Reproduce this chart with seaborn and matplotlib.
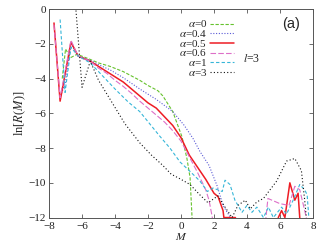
import numpy as np
import pandas as pd
import matplotlib
matplotlib.use("Agg")
import matplotlib.pyplot as plt
import seaborn as sns

# curvas ln[R(M)] (valores < -12 ficam cortados pelo eixo)
x_a0 = [-7.2, -7.0, -6.7, -6.3, -5.5, -5.0, -4.3, -3.5, -2.5, -2.0, -1.4, -1.1, -0.5, 0.06, 0.36, 0.55, 0.67, 0.7]
y_a0 = [-4.0, -2.3, -2.8, -2.6, -2.9, -3.1, -3.3, -3.6, -4.1, -4.4, -4.7, -5.0, -5.9, -7.35, -8.6, -9.7, -12, -20]

x_a04 = [-7.3, -7.0, -6.67, -6.24, -5.5, -5.0, -4.3, -3.5, -2.5, -1.5, -0.5, 0.2, 0.73, 1.15, 1.7, 2.2, 2.55, 2.8, 3.0, 3.3, 3.4]
y_a04 = [-5.0, -4.2, -2.0, -2.7, -2.95, -3.2, -3.5, -3.95, -4.6, -5.2, -5.9, -6.7, -7.45, -8.2, -9.0, -10.2, -11.3, -11.7, -12, -12, -20]

x_a05 = [-7.7, -7.33, -6.67, -6.24, -5.5, -5.0, -4.5, -4.0, -3.5, -3.0, -2.5, -2.0, -1.5, -1.0, -0.5, 0.0, 0.5, 1.0, 1.5, 2.0, 2.25,
         2.55, 2.6, 3.3, 3.4, 5.8, 5.9, 6.1, 6.3, 6.6, 6.9, 7.1, 7.2, 7.3]
y_a05 = [-0.8, -5.3, -1.9, -2.7, -3.0, -3.3, -3.6, -3.9, -4.2, -4.6, -5.0, -5.4, -5.7, -6.2, -6.7, -7.4, -8.4, -9.1, -9.8, -10.6, -10.8,
         -11.6, -12, -12, -20, -20, -12, -11.6, -12, -10.0, -11.0, -10.6, -12, -20]

x_a06 = [-7.7, -7.33, -6.67, -6.24, -5.5, -5.0, -4.5, -4.0, -3.5, -3.0, -2.5, -2.0, -1.5, -1.0, -0.5, 0.0, 0.5, 1.0, 1.5, 1.7, 1.9, 2.0,
         5.05, 5.15, 5.27, 6.0, 6.55, 6.9, 7.2, 7.6, 7.7]
y_a06 = [-0.9, -5.1, -1.8, -2.7, -3.0, -3.4, -3.7, -4.1, -4.45, -4.85, -5.3, -5.7, -6.1, -6.5, -7.0, -7.6, -8.5, -9.4, -10.4, -11.0, -12, -20,
         -20, -12, -10.9, -11.2, -11.3, -10.2, -10.4, -12, -20]

x_a1 = [-7.33, -7.03, -6.67, -6.24, -5.5, -5.0, -4.5, -4.0, -3.2, -2.5, -1.9, -1.3, -0.67, -0.06, 0.5, 1.15, 1.6, 1.94, 2.5, 2.67, 2.97,
        3.27, 3.7, 4.0, 4.3, 4.6, 5.0, 5.3, 5.6, 6.1, 6.4, 6.8, 7.2, 7.5, 7.65, 7.75]
y_a1 = [-0.6, -4.8, -2.2, -2.7, -3.1, -3.6, -4.1, -4.6, -5.35, -5.9, -6.6, -7.3, -8.0, -8.8, -9.3, -9.9, -10.5, -10.3, -10.5, -9.85, -10.1,
        -11.0, -11.7, -11.3, -11.7, -11.4, -12, -11.4, -12, -11.4, -11.8, -11.0, -10.1, -10.4, -10.7, -12]

x_a3 = [-6.4, -6.0, -5.5, -5.0, -4.2, -3.4, -2.5, -1.8, -1.1, -0.6, 0.0, 0.55, 1.15, 1.64, 2.24, 2.67, 3.1, 3.45, 3.9, 4.2, 4.6, 5.0,
        5.4, 5.8, 6.4, 6.9, 7.3, 7.5, 7.6]
y_a3 = [0.3, -4.5, -3.0, -4.1, -5.35, -6.6, -7.7, -8.4, -9.0, -9.5, -9.8, -10.1, -10.7, -11.15, -10.75, -11.4, -12, -11.3, -11.0, -11.5,
        -11.1, -10.9, -10.4, -9.9, -8.75, -8.6, -9.3, -11.0, -12]

rotulos = [r'$\alpha$=0', r'$\alpha$=0.4', r'$\alpha$=0.5', r'$\alpha$=0.6', r'$\alpha$=1', r'$\alpha$=3']
series = [(x_a0, y_a0), (x_a04, y_a04), (x_a05, y_a05), (x_a06, y_a06), (x_a1, y_a1), (x_a3, y_a3)]

partes = []
for rot, (xs, ys) in zip(rotulos, series):
    partes.append(pd.DataFrame({'M': xs, 'lnR': ys, 'alpha': rot}))
tabela = pd.concat(partes, ignore_index=True)

cores = dict(zip(rotulos, ['#66c22e', '#5a5ad6', '#ee1c24', '#dd6fc8', '#36b6d8', '#111111']))
tracos = dict(zip(rotulos, [(3, 1.5), (1, 1.5), '', (5, 2), (3, 2), (1, 2)]))

sns.set_style("ticks")
plt.rcParams['font.family'] = ['Liberation Serif', 'DejaVu Serif']
plt.rcParams['mathtext.fontset'] = 'stix'

fig = plt.figure(figsize=(3.27, 2.45), dpi=100)
ax = fig.add_axes([0.15, 0.112, 0.807, 0.851])

sns.lineplot(data=tabela, x='M', y='lnR', hue='alpha', style='alpha', palette=cores, dashes=tracos,
             estimator=None, sort=False, linewidth=0.8, ax=ax)
for ln in ax.lines:
    if ln.get_color() == '#ee1c24':
        ln.set_linewidth(1.1)

ax.set_xlim(-8, 8)
ax.set_ylim(-12, 0)
ax.set_xticks(np.arange(-8, 9, 2))
ax.set_yticks(np.arange(-12, 1, 2))
ax.tick_params(direction='in', length=3, width=0.6, top=True, right=True, labelsize=8,
               colors='#555555', labelcolor='#222222')
ax.tick_params(axis='x', pad=3)
ax.tick_params(axis='y', pad=2)
for s in ax.spines.values():
    s.set_color('#555555')
    s.set_linewidth(0.7)

ax.set_xlabel(r'$M$', fontsize=8.5, labelpad=0.5)
ax.set_ylabel(r'ln[$R$($M$)]', fontsize=9, labelpad=1)

leg = ax.legend(loc='upper right', bbox_to_anchor=(0.70, 0.955), frameon=False, markerfirst=False,
                fontsize=8, handlelength=2.1, handletextpad=0.3, labelspacing=-0.12,
                borderpad=0, borderaxespad=0)
for t in leg.get_texts():
    t.set_ha('right')
leg._legend_box.align = 'right'

ax.text(6.7, -0.85, '(a)', fontsize=10.5, family='Liberation Sans', ha='center', va='center')
ax.text(4.3, -2.9, r'$l$=3', fontsize=8.5, ha='center', va='center')

fig.savefig('out.png', dpi=100)
